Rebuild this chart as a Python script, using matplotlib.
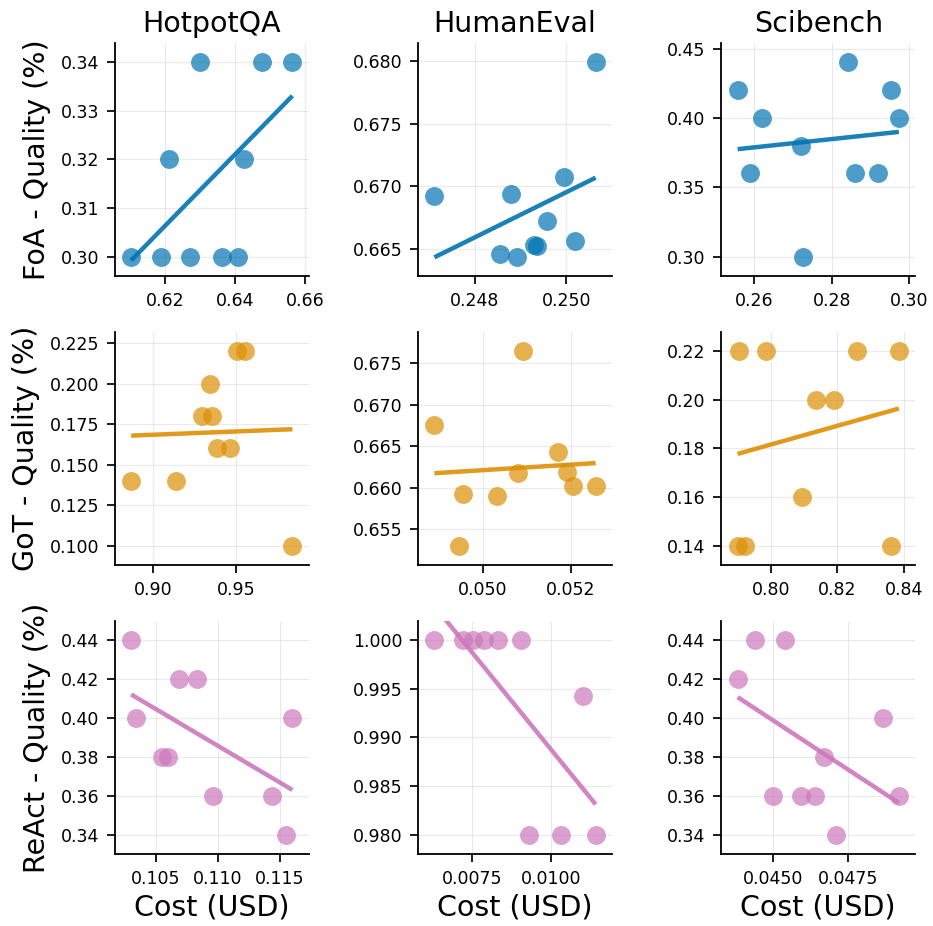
import matplotlib
matplotlib.use("Agg")
import matplotlib.pyplot as plt
import numpy as np

datasets = ["HotpotQA", "HumanEval", "Scibench"]
methods = ["FoA", "GoT", "ReAct"]
colors = {"FoA": "#0173b2", "GoT": "#de8f05", "ReAct": "#cc78bc"}

# FoA
foa_hotpot_cost = [0.6103, 0.6189, 0.6272, 0.6361, 0.6407, 0.6212, 0.6425, 0.6299, 0.6477, 0.6563]
foa_hotpot_qual = [0.30, 0.30, 0.30, 0.30, 0.30, 0.32, 0.32, 0.34, 0.34, 0.34]
foa_human_cost = [0.24712, 0.24880, 0.24855, 0.24892, 0.24930, 0.24936, 0.24958, 0.24996, 0.25020, 0.25064]
foa_human_qual = [0.66925, 0.66936, 0.66463, 0.66441, 0.66532, 0.66524, 0.66724, 0.67077, 0.66567, 0.67987]
foa_sci_cost = [0.2557, 0.2620, 0.2590, 0.2720, 0.2725, 0.2843, 0.2860, 0.2918, 0.2952, 0.2973]
foa_sci_qual = [0.42, 0.40, 0.36, 0.38, 0.30, 0.44, 0.36, 0.36, 0.42, 0.40]

# GoT
got_hotpot_cost = [0.8870, 0.9138, 0.9298, 0.9356, 0.9344, 0.9384, 0.9462, 0.9504, 0.9554, 0.9838]
got_hotpot_qual = [0.14, 0.14, 0.18, 0.18, 0.20, 0.16, 0.16, 0.22, 0.22, 0.10]
got_human_cost = [0.048906, 0.049464, 0.049555, 0.050332, 0.050808, 0.050906, 0.051713, 0.051917, 0.052045, 0.052558]
got_human_qual = [0.66757, 0.65298, 0.65919, 0.65895, 0.66180, 0.67646, 0.66435, 0.66192, 0.66024, 0.66024]
got_sci_cost = [0.79055, 0.79851, 0.82587, 0.83841, 0.81343, 0.81900, 0.80945, 0.79005, 0.79224, 0.83612]
got_sci_qual = [0.22, 0.22, 0.22, 0.22, 0.20, 0.20, 0.16, 0.14, 0.14, 0.14]

# ReAct
react_hotpot_cost = [0.10301, 0.10339, 0.10551, 0.10599, 0.10688, 0.10828, 0.10960, 0.11439, 0.11552, 0.11600]
react_hotpot_qual = [0.44, 0.40, 0.38, 0.38, 0.42, 0.42, 0.36, 0.36, 0.34, 0.40]
react_human_cost = [0.006313, 0.007216, 0.007521, 0.007868, 0.008330, 0.009044, 0.009296, 0.010305, 0.011397, 0.010998]
react_human_qual = [1.0, 1.0, 1.0, 1.0, 1.0, 1.0, 0.98, 0.98, 0.98, 0.99427]
react_sci_cost = [0.04382, 0.04440, 0.04541, 0.04500, 0.04592, 0.04640, 0.04671, 0.04709, 0.04866, 0.04919]
react_sci_qual = [0.42, 0.44, 0.44, 0.36, 0.36, 0.36, 0.38, 0.34, 0.40, 0.36]

grid_data = {
    ("FoA", "HotpotQA"): (foa_hotpot_cost, foa_hotpot_qual),
    ("FoA", "HumanEval"): (foa_human_cost, foa_human_qual),
    ("FoA", "Scibench"): (foa_sci_cost, foa_sci_qual),
    ("GoT", "HotpotQA"): (got_hotpot_cost, got_hotpot_qual),
    ("GoT", "HumanEval"): (got_human_cost, got_human_qual),
    ("GoT", "Scibench"): (got_sci_cost, got_sci_qual),
    ("ReAct", "HotpotQA"): (react_hotpot_cost, react_hotpot_qual),
    ("ReAct", "HumanEval"): (react_human_cost, react_human_qual),
    ("ReAct", "Scibench"): (react_sci_cost, react_sci_qual),
}

x_ticks = {
    ("FoA", "HotpotQA"): [0.62, 0.64, 0.66],
    ("FoA", "HumanEval"): [0.248, 0.250],
    ("FoA", "Scibench"): [0.26, 0.28, 0.30],
    ("GoT", "HotpotQA"): [0.90, 0.95],
    ("GoT", "HumanEval"): [0.050, 0.052],
    ("GoT", "Scibench"): [0.80, 0.82, 0.84],
    ("ReAct", "HotpotQA"): [0.105, 0.110, 0.115],
    ("ReAct", "HumanEval"): [0.0075, 0.0100],
    ("ReAct", "Scibench"): [0.0450, 0.0475],
}


def pad_limits(vals, frac=0.1):
    lo, hi = min(vals), max(vals)
    d = (hi - lo) * frac
    return lo - d, hi + d


fig, axes = plt.subplots(3, 3, figsize=(9.33, 9.26), dpi=100)
fig.subplots_adjust(left=0.1233, right=0.9807, top=0.9536, bottom=0.0778,
                    wspace=0.567, hspace=0.24)

for r, m in enumerate(methods):
    for c, d in enumerate(datasets):
        ax = axes[r, c]
        x, y = grid_data[(m, d)]
        x = np.array(x)
        y = np.array(y)
        col = colors[m]

        ax.grid(True, color="#dddddd", linewidth=0.8, alpha=0.6)
        ax.set_axisbelow(True)
        ax.scatter(x, y, s=185, color=col, alpha=0.7, linewidths=0, zorder=3)

        # least-squares trend line over the data range
        k, b = np.polyfit(x, y, 1)
        xs = np.array([x.min(), x.max()])
        ax.plot(xs, k * xs + b, color=col, linewidth=3.2, alpha=0.9, zorder=4,
                solid_capstyle="butt")

        ax.set_xlim(pad_limits(x))
        ax.set_ylim(pad_limits(y))
        ax.set_xticks(x_ticks[(m, d)])

        for s in ["top", "right"]:
            ax.spines[s].set_visible(False)
        for s in ["left", "bottom"]:
            ax.spines[s].set_linewidth(1.3)
        ax.tick_params(labelsize=12.5, length=6, width=1.25, pad=5.5, direction="out")

        if r == 0:
            ax.set_title(d, fontsize=20.5, pad=8)
        if c == 0:
            ax.set_ylabel(f"{m} - Quality (%)", fontsize=20.5, labelpad=7)
        if r == 2:
            ax.set_xlabel("Cost (USD)", fontsize=20.5, labelpad=4)

plt.savefig("out.png", dpi=100)
